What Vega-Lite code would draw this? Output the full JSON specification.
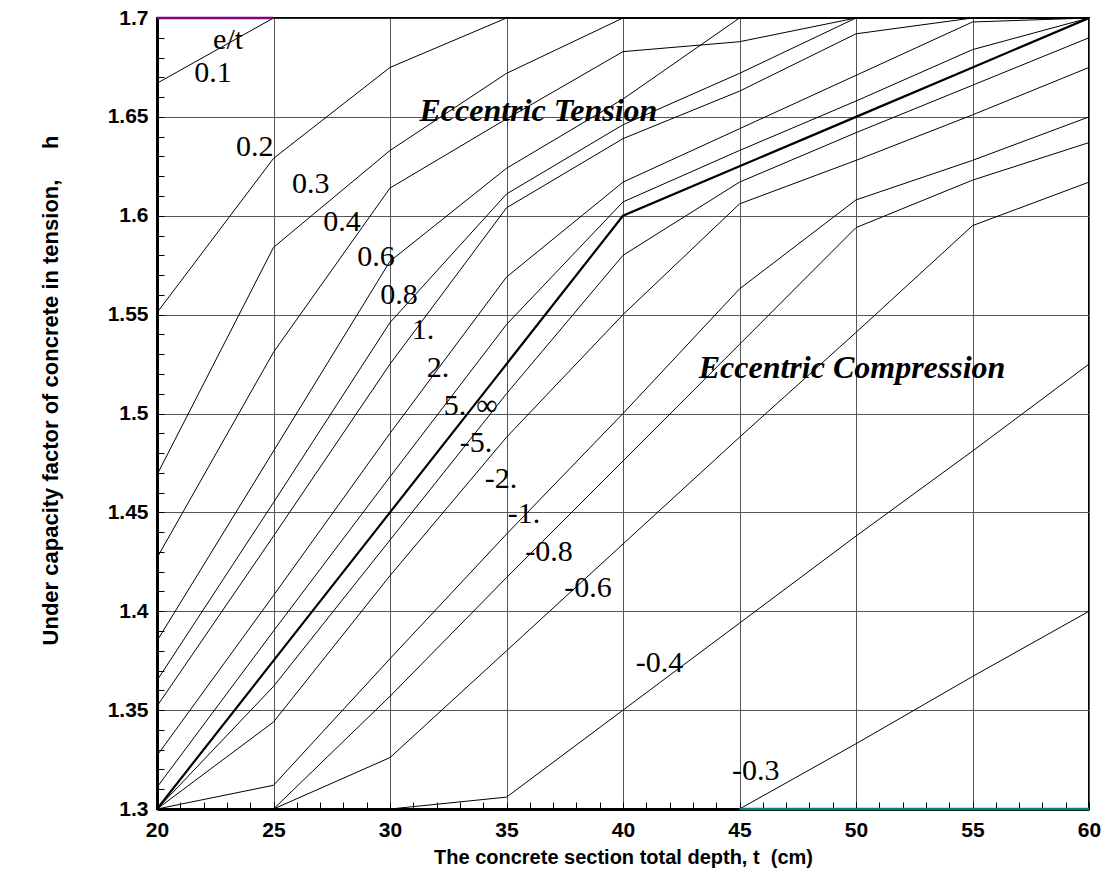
{
  "$schema": "https://vega.github.io/schema/vega-lite/v6.json",
  "width": 932,
  "height": 791,
  "autosize": {"type": "none"},
  "padding": {"left": 157, "top": 18, "right": 19, "bottom": 73},
  "background": "white",
  "config": {
    "view": {"stroke": "black", "strokeWidth": 2}
  },
  "datasets": {
    "curves": [
      {"e":"0.1","t":20,"h":1.667},{"e":"0.1","t":25,"h":1.7},{"e":"0.1","t":30,"h":1.7},{"e":"0.1","t":35,"h":1.7},{"e":"0.1","t":40,"h":1.7},{"e":"0.1","t":45,"h":1.7},{"e":"0.1","t":50,"h":1.7},{"e":"0.1","t":55,"h":1.7},{"e":"0.1","t":60,"h":1.7},
      {"e":"0.2","t":20,"h":1.551},{"e":"0.2","t":25,"h":1.629},{"e":"0.2","t":30,"h":1.675},{"e":"0.2","t":35,"h":1.7},{"e":"0.2","t":40,"h":1.7},{"e":"0.2","t":45,"h":1.7},{"e":"0.2","t":50,"h":1.7},{"e":"0.2","t":55,"h":1.7},{"e":"0.2","t":60,"h":1.7},
      {"e":"0.3","t":20,"h":1.469},{"e":"0.3","t":25,"h":1.584},{"e":"0.3","t":30,"h":1.633},{"e":"0.3","t":35,"h":1.672},{"e":"0.3","t":40,"h":1.7},{"e":"0.3","t":45,"h":1.7},{"e":"0.3","t":50,"h":1.7},{"e":"0.3","t":55,"h":1.7},{"e":"0.3","t":60,"h":1.7},
      {"e":"0.4","t":20,"h":1.427},{"e":"0.4","t":25,"h":1.531},{"e":"0.4","t":30,"h":1.614},{"e":"0.4","t":35,"h":1.649},{"e":"0.4","t":40,"h":1.683},{"e":"0.4","t":45,"h":1.688},{"e":"0.4","t":50,"h":1.7},{"e":"0.4","t":55,"h":1.7},{"e":"0.4","t":60,"h":1.7},
      {"e":"0.6","t":20,"h":1.385},{"e":"0.6","t":25,"h":1.481},{"e":"0.6","t":30,"h":1.577},{"e":"0.6","t":35,"h":1.624},{"e":"0.6","t":40,"h":1.659},{"e":"0.6","t":45,"h":1.7},{"e":"0.6","t":50,"h":1.7},{"e":"0.6","t":55,"h":1.7},{"e":"0.6","t":60,"h":1.7},
      {"e":"0.8","t":20,"h":1.365},{"e":"0.8","t":25,"h":1.455},{"e":"0.8","t":30,"h":1.546},{"e":"0.8","t":35,"h":1.611},{"e":"0.8","t":40,"h":1.646},{"e":"0.8","t":45,"h":1.672},{"e":"0.8","t":50,"h":1.7},{"e":"0.8","t":55,"h":1.7},{"e":"0.8","t":60,"h":1.7},
      {"e":"1.","t":20,"h":1.352},{"e":"1.","t":25,"h":1.438},{"e":"1.","t":30,"h":1.525},{"e":"1.","t":35,"h":1.604},{"e":"1.","t":40,"h":1.639},{"e":"1.","t":45,"h":1.663},{"e":"1.","t":50,"h":1.692},{"e":"1.","t":55,"h":1.7},{"e":"1.","t":60,"h":1.7},
      {"e":"2.","t":20,"h":1.327},{"e":"2.","t":25,"h":1.408},{"e":"2.","t":30,"h":1.49},{"e":"2.","t":35,"h":1.569},{"e":"2.","t":40,"h":1.617},{"e":"2.","t":45,"h":1.644},{"e":"2.","t":50,"h":1.671},{"e":"2.","t":55,"h":1.698},{"e":"2.","t":60,"h":1.7},
      {"e":"5.","t":20,"h":1.311},{"e":"5.","t":25,"h":1.39},{"e":"5.","t":30,"h":1.468},{"e":"5.","t":35,"h":1.545},{"e":"5.","t":40,"h":1.607},{"e":"5.","t":45,"h":1.633},{"e":"5.","t":50,"h":1.658},{"e":"5.","t":55,"h":1.684},{"e":"5.","t":60,"h":1.7},
      {"e":"inf","t":20,"h":1.3},{"e":"inf","t":25,"h":1.375},{"e":"inf","t":30,"h":1.45},{"e":"inf","t":35,"h":1.525},{"e":"inf","t":40,"h":1.6},{"e":"inf","t":45,"h":1.625},{"e":"inf","t":50,"h":1.65},{"e":"inf","t":55,"h":1.675},{"e":"inf","t":60,"h":1.7},
      {"e":"-5.","t":20,"h":1.3},{"e":"-5.","t":25,"h":1.362},{"e":"-5.","t":30,"h":1.436},{"e":"-5.","t":35,"h":1.51},{"e":"-5.","t":40,"h":1.58},{"e":"-5.","t":45,"h":1.617},{"e":"-5.","t":50,"h":1.642},{"e":"-5.","t":55,"h":1.666},{"e":"-5.","t":60,"h":1.69},
      {"e":"-2.","t":20,"h":1.3},{"e":"-2.","t":25,"h":1.344},{"e":"-2.","t":30,"h":1.418},{"e":"-2.","t":35,"h":1.488},{"e":"-2.","t":40,"h":1.55},{"e":"-2.","t":45,"h":1.606},{"e":"-2.","t":50,"h":1.628},{"e":"-2.","t":55,"h":1.651},{"e":"-2.","t":60,"h":1.675},
      {"e":"-1.","t":20,"h":1.3},{"e":"-1.","t":25,"h":1.312},{"e":"-1.","t":30,"h":1.376},{"e":"-1.","t":35,"h":1.439},{"e":"-1.","t":40,"h":1.5},{"e":"-1.","t":45,"h":1.563},{"e":"-1.","t":50,"h":1.608},{"e":"-1.","t":55,"h":1.628},{"e":"-1.","t":60,"h":1.65},
      {"e":"-0.8","t":20,"h":1.3},{"e":"-0.8","t":25,"h":1.3},{"e":"-0.8","t":30,"h":1.357},{"e":"-0.8","t":35,"h":1.417},{"e":"-0.8","t":40,"h":1.476},{"e":"-0.8","t":45,"h":1.535},{"e":"-0.8","t":50,"h":1.594},{"e":"-0.8","t":55,"h":1.618},{"e":"-0.8","t":60,"h":1.637},
      {"e":"-0.6","t":20,"h":1.3},{"e":"-0.6","t":25,"h":1.3},{"e":"-0.6","t":30,"h":1.326},{"e":"-0.6","t":35,"h":1.38},{"e":"-0.6","t":40,"h":1.434},{"e":"-0.6","t":45,"h":1.488},{"e":"-0.6","t":50,"h":1.541},{"e":"-0.6","t":55,"h":1.595},{"e":"-0.6","t":60,"h":1.617},
      {"e":"-0.4","t":20,"h":1.3},{"e":"-0.4","t":25,"h":1.3},{"e":"-0.4","t":30,"h":1.3},{"e":"-0.4","t":35,"h":1.306},{"e":"-0.4","t":40,"h":1.35},{"e":"-0.4","t":45,"h":1.394},{"e":"-0.4","t":50,"h":1.438},{"e":"-0.4","t":55,"h":1.481},{"e":"-0.4","t":60,"h":1.525},
      {"e":"-0.3","t":20,"h":1.3},{"e":"-0.3","t":25,"h":1.3},{"e":"-0.3","t":30,"h":1.3},{"e":"-0.3","t":35,"h":1.3},{"e":"-0.3","t":40,"h":1.3},{"e":"-0.3","t":45,"h":1.3},{"e":"-0.3","t":50,"h":1.333},{"e":"-0.3","t":55,"h":1.367},{"e":"-0.3","t":60,"h":1.4}
    ],
    "topEdge": [{"t":20,"h":1.7},{"t":25,"h":1.7}],
    "bottomEdge": [{"t":45,"h":1.3},{"t":60,"h":1.3}],
    "labels": [
      {"label":"e/t","t":23.05,"h":1.689},
      {"label":"0.1","t":22.4,"h":1.672},
      {"label":"0.2","t":24.2,"h":1.635},
      {"label":"0.3","t":26.6,"h":1.616},
      {"label":"0.4","t":27.94,"h":1.597},
      {"label":"0.6","t":29.4,"h":1.579},
      {"label":"0.8","t":30.39,"h":1.56},
      {"label":"1.","t":31.42,"h":1.542},
      {"label":"2.","t":32.06,"h":1.523},
      {"label":"5.","t":32.79,"h":1.504},
      {"label":"∞","t":34.16,"h":1.504},
      {"label":"-5.","t":33.69,"h":1.485},
      {"label":"-2.","t":34.76,"h":1.467},
      {"label":"-1.","t":35.75,"h":1.449},
      {"label":"-0.8","t":36.82,"h":1.43},
      {"label":"-0.6","t":38.5,"h":1.412},
      {"label":"-0.4","t":41.57,"h":1.374},
      {"label":"-0.3","t":45.7,"h":1.319}
    ],
    "regions": [
      {"label":"Eccentric Tension","t":36.37,"h":1.648},
      {"label":"Eccentric Compression","t":49.83,"h":1.518}
    ]
  },
  "encoding": {
    "x": {"field": "t", "type": "quantitative", "scale": {"domain": [20, 60], "nice": false},
      "axis": {"values": [20,21,22,23,24,25,26,27,28,29,30,31,32,33,34,35,36,37,38,39,40,41,42,43,44,45,46,47,48,49,50,51,52,53,54,55,56,57,58,59,60],
        "tickCount": 200,
        "labelExpr": "datum.value % 5 === 0 ? format(datum.value, 'd') : ''", "labelOverlap": false, "labelBound": false, "labelFlush": false,
        "labelFont": "Liberation Sans", "labelFontWeight": "bold", "labelFontSize": 21, "labelColor": "black",
        "tickSize": -7, "tickColor": "black", "labelPadding": 17, "domainWidth": 3, "domainColor": "black",
        "grid": true, "gridColor": "#555555", "gridWidth": 1,
        "gridOpacity": {"condition": {"test": "datum.value % 5 === 0", "value": 1}, "value": 0},
        "title": "The concrete section total depth, t\u00a0\u00a0(cm)", "titleFont": "Liberation Sans", "titleFontWeight": "bold", "titleFontSize": 20, "titleColor": "black", "titlePadding": 7}},
    "y": {"field": "h", "type": "quantitative", "scale": {"domain": [1.3, 1.7], "nice": false, "zero": false},
      "axis": {"values": [1.3,1.31,1.32,1.33,1.34,1.35,1.36,1.37,1.38,1.39,1.4,1.41,1.42,1.43,1.44,1.45,1.46,1.47,1.48,1.49,1.5,1.51,1.52,1.53,1.54,1.55,1.56,1.57,1.58,1.59,1.6,1.61,1.62,1.63,1.64,1.65,1.66,1.67,1.68,1.69,1.7],
        "tickCount": 200,
        "labelExpr": "round(datum.value*100) % 5 === 0 ? format(datum.value, '.2~f') : ''", "labelOverlap": false, "labelBound": false, "labelFlush": false,
        "labelFont": "Liberation Sans", "labelFontWeight": "bold", "labelFontSize": 21, "labelColor": "black",
        "tickSize": -7, "tickColor": "black", "labelPadding": 16, "domainWidth": 3, "domainColor": "black",
        "grid": true, "gridColor": "#555555", "gridWidth": 1,
        "gridOpacity": {"condition": {"test": "round(datum.value*100) % 5 === 0", "value": 1}, "value": 0},
        "title": "Under capacity factor of concrete in tension,\u00a0\u00a0\u00a0\u00a0\u00a0h", "titleFont": "Liberation Sans", "titleFontWeight": "bold", "titleFontSize": 22, "titleColor": "black", "titlePadding": 45, "titleY": 372}}
  },
  "layer": [
    {
      "data": {"name": "curves"},
      "transform": [{"filter": "datum.e !== 'inf'"}],
      "mark": {"type": "line", "color": "black", "strokeWidth": 1, "clip": true},
      "encoding": {"detail": {"field": "e"}}
    },
    {
      "data": {"name": "curves"},
      "transform": [{"filter": "datum.e === 'inf'"}],
      "mark": {"type": "line", "color": "black", "strokeWidth": 2.2, "clip": true},
      "encoding": {}
    },
    {
      "data": {"name": "topEdge"},
      "mark": {"type": "line", "color": "#800080", "strokeWidth": 2.5},
      "encoding": {}
    },
    {
      "data": {"name": "bottomEdge"},
      "mark": {"type": "line", "color": "#008080", "strokeWidth": 2.5},
      "encoding": {}
    },
    {
      "data": {"name": "labels"},
      "mark": {"type": "text", "font": "Liberation Serif", "fontSize": 30, "color": "black", "align": "center", "baseline": "middle"},
      "encoding": {"text": {"field": "label"}}
    },
    {
      "data": {"name": "regions"},
      "mark": {"type": "text", "font": "Liberation Serif", "fontSize": 32, "fontWeight": "bold", "fontStyle": "italic", "color": "black", "align": "center", "baseline": "alphabetic"},
      "encoding": {"text": {"field": "label"}}
    }
  ]
}
